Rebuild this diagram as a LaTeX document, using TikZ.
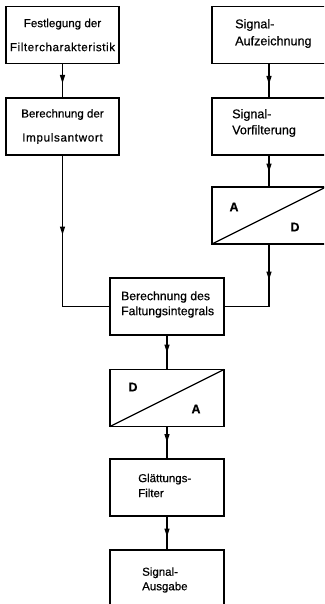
\documentclass[tikz,border=0pt]{standalone}
\usepackage{fontspec}
\setmainfont{Liberation Sans}[FakeBold=0.5]
\usetikzlibrary{arrows.meta,decorations.markings}
\begin{document}
\begin{tikzpicture}[x=1pt,y=-1pt,
  box/.style={draw, line width=1.5pt, outer sep=0pt, inner sep=0pt,
    minimum width=114pt, minimum height=57pt, align=center},
  lbl/.style={inner sep=0pt, align=left, anchor=west},
  conn/.style={line width=1.4pt},
  arr/.style={postaction={decorate}, decoration={markings,
    mark=at position #1 with {\arrow{Triangle[length=8.5pt,width=5pt]}}}},
  big/.style={font=\fontsize{12.5}{14}\selectfont\bfseries, inner sep=0pt}
]
\useasboundingbox (0,0) rectangle (324,604);
\fill[white] (0,0) rectangle (324,604);
\clip (0,0) rectangle (324,604);

% left column
\node[box, minimum width=113pt, font=\fontsize{11.6}{24}\selectfont] (l1) at (62.5,35)
  {Festlegung der\\{\addfontfeatures{LetterSpace=5}Filtercharakteristik}};
\node[box, minimum width=113pt, font=\fontsize{11.6}{24}\selectfont] (l2) at (62.5,126.5)
  {Berechnung der\\{\addfontfeatures{LetterSpace=6}Impulsantwort}};

% right column
\node[box] (r1) at (269,35) {};
\node[lbl, font=\fontsize{12.6}{17}\selectfont] (r1t) at (235,33.5) {Signal-\\Aufzeichnung};
\node[box] (r2) at (269,126.5) {};
\node[lbl, font=\fontsize{12.6}{16}\selectfont] (r2t) at (232,123) {Signal-\\Vorfilterung};
\node[box] (ad) at (269,215.5) {};
\draw[line width=1.3pt] (ad.south west) -- (ad.north east);
\node[big] (adA) at (234,207) {A};
\node[big] (adD) at (295,227) {D};

% middle column
\node[box] (c) at (167,306.5) {};
\node[lbl, font=\fontsize{12.2}{15}\selectfont] (ct) at (121,304.5) {Berechnung des\\Faltungsintegrals};
\node[box] (da) at (167,398) {};
\draw[line width=1.3pt] (da.south west) -- (da.north east);
\node[big] (daD) at (133,387) {D};
\node[big] (daA) at (196,409) {A};
\node[box] (g) at (167,487.5) {};
\node[lbl, font=\fontsize{11.5}{15}\selectfont] (gt) at (138,485.5) {Glättungs-\\Filter};
\node[box] (s) at (167,578.5) {};
\node[lbl, font=\fontsize{11.5}{14.5}\selectfont] (st) at (142,580) {Signal-\\Ausgabe};

% connectors
\draw[conn, arr=20pt] (l1) -- (l2);
\draw[conn, arr=21pt] (r1) -- (r2);
\draw[conn, arr=17pt] (r2) -- (ad);
\draw[conn, arr=80pt] (l2.south) |- (c.west);
\draw[conn, arr=36pt] (ad.south) |- (c.east);
\draw[conn, arr=18pt] (c) -- (da);
\draw[conn, arr=16pt] (da) -- (g);
\draw[conn, arr=21pt] (g) -- (s);
\end{tikzpicture}
\end{document}
